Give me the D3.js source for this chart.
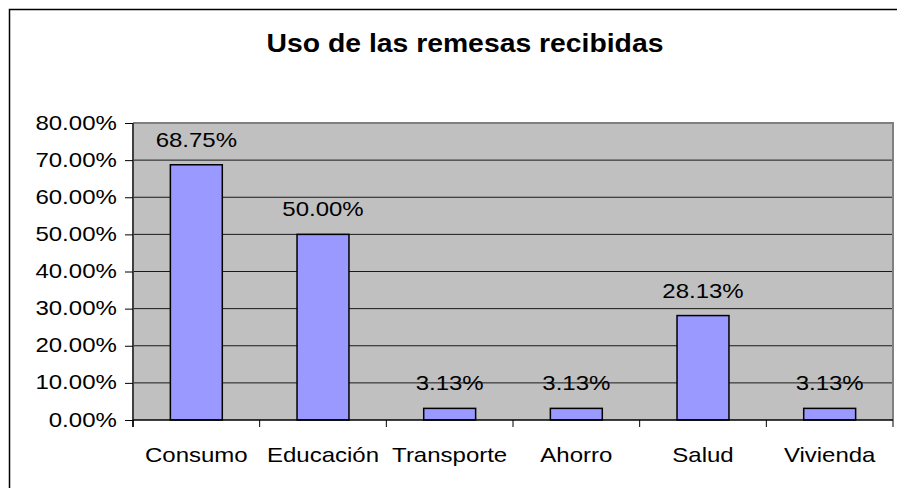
<!DOCTYPE html>
<html lang="es">
<head>
<meta charset="UTF-8">
<script src="https://d3js.org/d3.v7.min.js"></script>
<title>Uso de las remesas recibidas</title>
<style>
  body { margin: 0; background: #fff; }
  svg text { font-family: "Liberation Sans", Arial, sans-serif; fill: #000; }
</style>
</head>
<body>
<svg id="chart" width="897" height="488"></svg>
<script>
var categories = ["Consumo", "Educación", "Transporte", "Ahorro", "Salud", "Vivienda"];
var values = [68.75, 50.00, 3.13, 3.13, 28.13, 3.13];
var yTicks = [0, 10, 20, 30, 40, 50, 60, 70, 80];

var svg = d3.select('#chart');
var plotL = 133, plotR = 893, plotT = 123, plotB = 420;
var fs = 20, sx = 1.2;   // text is drawn a bit wider than normal

// outer frame (cut off at right and bottom)
svg.append('path')
    .attr('d', 'M9.5,488 V9.5 H897')
    .attr('fill', 'none')
    .attr('stroke', '#000')
    .attr('stroke-width', 1.5);

svg.append('text')
    .attr('transform', 'translate(465,52) scale(1.09,1)')
    .attr('text-anchor', 'middle')
    .style('font-size', '26px')
    .style('font-weight', 'bold')
    .text('Uso de las remesas recibidas');

var x = d3.scaleBand()
    .domain(categories)
    .range([plotL, plotR])
    .paddingInner(0.59)
    .paddingOuter(0.295);

var y = d3.scaleLinear()
    .domain([0, 80])
    .range([plotB, plotT]);

// plot area
svg.append('rect')
    .attr('x', plotL).attr('y', plotT)
    .attr('width', plotR - plotL).attr('height', plotB - plotT)
    .attr('fill', '#c0c0c0');

svg.append('g')
    .selectAll('line')
    .data(yTicks.slice(1))
    .enter().append('line')
    .attr('x1', plotL).attr('x2', plotR)
    .attr('y1', function(d){ return y(d); })
    .attr('y2', function(d){ return y(d); })
    .attr('stroke', '#1a1a1a')
    .attr('stroke-width', 1);

svg.append('path')
    .attr('d', 'M' + plotL + ',' + plotT + ' H' + plotR + ' V' + plotB)
    .attr('fill', 'none')
    .attr('stroke', '#808080')
    .attr('stroke-width', 2);

// bars
svg.append('g')
    .selectAll('rect')
    .data(values)
    .enter().append('rect')
    .attr('x', function(d, i){ return x(categories[i]); })
    .attr('y', function(d){ return y(d); })
    .attr('width', x.bandwidth())
    .attr('height', function(d){ return y(0) - y(d); })
    .attr('fill', '#9999ff')
    .attr('stroke', '#000')
    .attr('stroke-width', 1.5);

// value labels
svg.append('g')
    .selectAll('text')
    .data(values)
    .enter().append('text')
    .attr('transform', function(d, i){
        return 'translate(' + (x(categories[i]) + x.bandwidth() / 2) + ',' + (y(d) - 18) + ') scale(' + sx + ',1)';
    })
    .attr('text-anchor', 'middle')
    .style('font-size', fs + 'px')
    .text(function(d){ return d.toFixed(2) + '%'; });

// y axis
var yAxis = d3.axisLeft(y)
    .tickValues(yTicks)
    .tickSize(8)
    .tickPadding(5.5)
    .tickFormat(function(d){ return d.toFixed(2) + '%'; });

var gy = svg.append('g')
    .attr('transform', 'translate(' + plotL + ',0)')
    .call(yAxis);
gy.select('.domain').attr('stroke', '#404040').attr('stroke-width', 2)
    .attr('d', 'M0,' + plotT + 'V' + (plotB + 7));
gy.selectAll('.tick line').attr('stroke', '#000');
gy.selectAll('.tick text')
    .attr('transform', 'scale(' + sx + ',1)')
    .attr('dy', '0.3em')
    .style('font-size', fs + 'px')
    .style('font-family', '"Liberation Sans", Arial, sans-serif');

// x axis: line, ticks between categories, labels centred
var step = x.step();
svg.append('line')
    .attr('x1', plotL).attr('x2', plotR)
    .attr('y1', plotB).attr('y2', plotB)
    .attr('stroke', '#000').attr('stroke-width', 1.5);

svg.append('g')
    .selectAll('line')
    .data(d3.range(categories.length + 1))
    .enter().append('line')
    .attr('x1', function(i){ return plotL + i * step; })
    .attr('x2', function(i){ return plotL + i * step; })
    .attr('y1', plotB).attr('y2', plotB + 7)
    .attr('stroke', '#000');

svg.append('g')
    .selectAll('text')
    .data(categories)
    .enter().append('text')
    .attr('transform', function(d){
        return 'translate(' + (x(d) + x.bandwidth() / 2) + ',' + (plotB + 42) + ') scale(' + sx + ',1)';
    })
    .attr('text-anchor', 'middle')
    .style('font-size', fs + 'px')
    .text(function(d){ return d; });
</script>
</body>
</html>
